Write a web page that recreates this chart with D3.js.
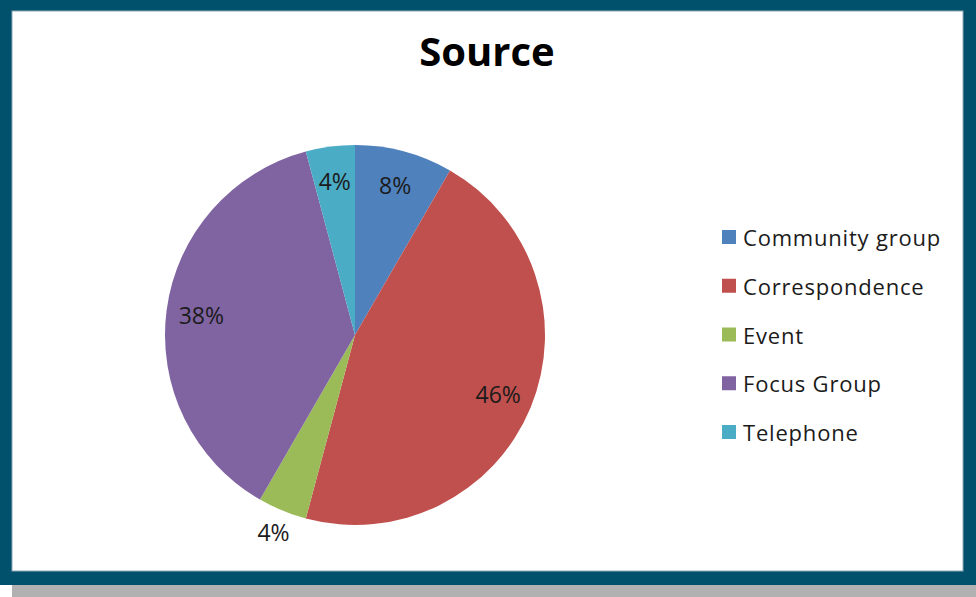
<!DOCTYPE html>
<html>
<head>
<meta charset="utf-8">
<script src="https://cdn.jsdelivr.net/npm/d3@7"></script>
<style>
  html, body { margin: 0; padding: 0; background: #fff; }
  svg { display: block; }
  text { font-family: "Open Sans", Lato, sans-serif; }
</style>
</head>
<body>
<svg id="chart" width="976" height="597"></svg>
<script>
// Responses by source (counts)
const categories = ["Community group", "Correspondence", "Event", "Focus Group", "Telephone"];
const counts = [2, 11, 1, 9, 1];
const sliceColors = ["#4F81BD", "#C0504D", "#9BBB59", "#8064A2", "#4BACC6"];
const chartTitle = "Source";
// slices whose percentage label sits outside the pie
const outsideLabels = ["Event"];

const W = 976, H = 597;
const svg = d3.select("#chart");

// drop shadow strip and framed panel
svg.append("rect").attr("x", 12).attr("y", 585).attr("width", W - 12).attr("height", 12).attr("fill", "#b1b1b1");
svg.append("rect").attr("x", 0).attr("y", 0).attr("width", W).attr("height", 585).attr("fill", "#02516c");
svg.append("rect").attr("x", 12).attr("y", 11).attr("width", 951).attr("height", 560)
  .attr("fill", "#ffffff").attr("stroke", "#8ea9b6").attr("stroke-width", 1);

// title
svg.append("text")
  .attr("x", 487).attr("y", 66)
  .attr("text-anchor", "middle")
  .attr("font-size", 40).attr("font-weight", 700)
  .attr("fill", "#000")
  .text(chartTitle);

const data = categories.map((c, i) => ({ name: c, value: counts[i], color: sliceColors[i] }));
const total = d3.sum(counts);

const cx = 355, cy = 335, r = 190;
const pie = d3.pie().sort(null).value(d => d.value);
const arc = d3.arc().innerRadius(0).outerRadius(r);
const arcs = pie(data);

const g = svg.append("g").attr("transform", `translate(${cx},${cy})`);
g.selectAll("path.slice")
  .data(arcs)
  .join("path")
  .attr("class", "slice")
  .attr("d", arc)
  .attr("fill", d => d.data.color);

const inLabel = d3.arc().innerRadius(155).outerRadius(155);
const outLabel = d3.arc().innerRadius(213).outerRadius(213);
g.selectAll("text.pct")
  .data(arcs)
  .join("text")
  .attr("class", "pct")
  .attr("transform", d => {
    const p = (outsideLabels.includes(d.data.name) ? outLabel : inLabel).centroid(d);
    return `translate(${p[0]},${p[1]})`;
  })
  .attr("text-anchor", "middle")
  .attr("dominant-baseline", "central")
  .attr("font-size", 23)
  .attr("fill", "#1b1b1b")
  .text(d => Math.round(d.data.value / total * 100) + "%");

// legend
const legendY = d3.scalePoint().domain(categories).range([237, 432]);
const lg = svg.append("g");
const items = lg.selectAll("g.item").data(data).join("g")
  .attr("class", "item")
  .attr("transform", d => `translate(722,${legendY(d.name)})`);
items.append("rect")
  .attr("x", 0).attr("y", -7).attr("width", 14).attr("height", 14)
  .attr("fill", d => d.color);
items.append("text")
  .attr("x", 21).attr("y", 0)
  .attr("dominant-baseline", "central")
  .attr("font-size", 22)
  .attr("letter-spacing", 0.8)
  .attr("fill", "#1b1b1b")
  .text(d => d.name);
</script>
</body>
</html>
